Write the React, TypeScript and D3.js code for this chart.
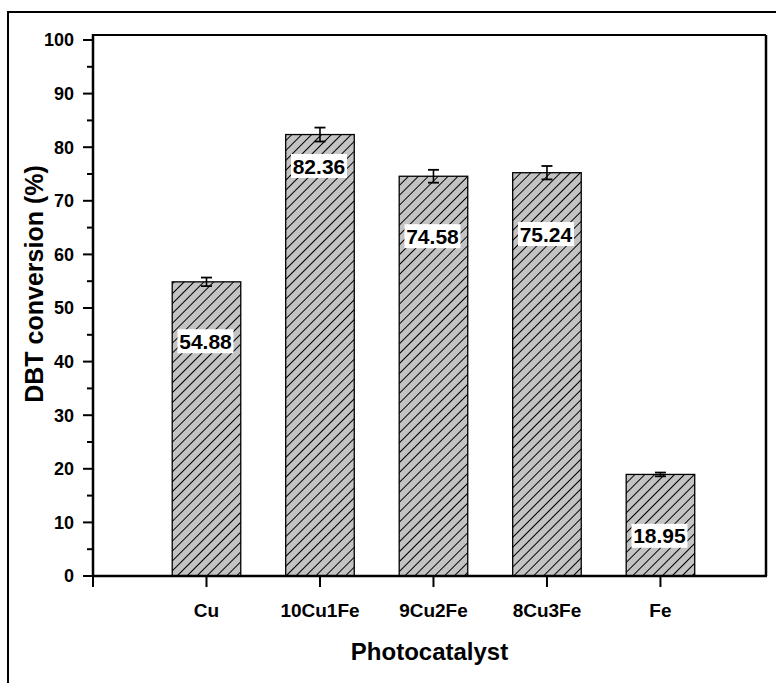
import React from 'react'
import * as d3 from 'd3'

const categories = ['Cu', '10Cu1Fe', '9Cu2Fe', '8Cu3Fe', 'Fe']
const conversion = [54.88, 82.36, 74.58, 75.24, 18.95]
const errors = [0.8, 1.3, 1.2, 1.25, 0.35]
// where the value labels sit, in axis units (placed by hand in the original)
const labelAt = [43.8, 76.5, 63.4, 63.8, 7.5]
const yTicks = [0, 10, 20, 30, 40, 50, 60, 70, 80, 90, 100]
const yMinorTicks = [5, 15, 25, 35, 45, 55, 65, 75, 85, 95]

const W = 776
const H = 683
const plot = { left: 93, right: 766, top: 35, bottom: 576 }
const font = '"Liberation Sans", Arial, sans-serif'

export default function App() {
  const xScale = d3.scaleLinear()
    .domain([0, 5.93])
    .range([plot.left, plot.right])

  const yScale = d3.scaleLinear()
    .domain([0, 100])
    .range([plot.bottom, 40])

  const barHalf = 0.302

  const bars = categories.map((cat, i) => {
    const x0 = xScale(i + 1 - barHalf)
    const x1 = xScale(i + 1 + barHalf)
    const cx = xScale(i + 1)
    const v = conversion[i]
    const yTop = yScale(v)
    const eHi = yScale(v + errors[i])
    const eLo = yScale(v - errors[i])
    const ly = yScale(labelAt[i])
    const txt = v.toFixed(2)
    return (
      <g key={cat}>
        <rect x={x0} y={yTop} width={x1 - x0} height={plot.bottom - yTop}
          fill='url(#hatch)' stroke='#000' strokeWidth={1.3} />
        {/* error bar */}
        <line x1={cx} x2={cx} y1={eHi} y2={eLo} stroke='#000' strokeWidth={1.6} />
        <line x1={cx - 5.5} x2={cx + 5.5} y1={eHi} y2={eHi} stroke='#000' strokeWidth={1.8} />
        <line x1={cx - 5.5} x2={cx + 5.5} y1={eLo} y2={eLo} stroke='#000' strokeWidth={1.8} />
        {/* value label */}
        <rect x={cx - 29} y={ly - 12} width={56} height={24} fill='#fff' />
        <text x={cx - 1} y={ly} dy='0.36em' textAnchor='middle'
          fontFamily={font} fontWeight='bold' fontSize={21} fill='#000'>
          {txt}
        </text>
      </g>
    )
  })

  return (
    <svg width={W} height={H} style={{ position: 'absolute', left: 0, top: 0, display: 'block', background: '#fff' }}>
      <defs>
        <pattern id='hatch' patternUnits='userSpaceOnUse' width={7} height={7}
          patternTransform='rotate(45)'>
          <rect x={0} y={0} width={7} height={7} fill='#c3c3c3' />
          <line x1={0.5} y1={0} x2={0.5} y2={7} stroke='#000' strokeWidth={1} />
        </pattern>
      </defs>

      {/* outer border */}
      <rect x={8} y={12} width={W + 20} height={H + 20} fill='none' stroke='#000' strokeWidth={2} />

      { bars }

      {/* frame */}
      <line x1={plot.left} x2={plot.right} y1={plot.top} y2={plot.top} stroke='#000' strokeWidth={2} />
      <line x1={plot.right} x2={plot.right} y1={plot.top} y2={plot.bottom} stroke='#000' strokeWidth={2.5} />
      <line x1={plot.left} x2={plot.right + 1} y1={plot.bottom} y2={plot.bottom} stroke='#000' strokeWidth={2.5} />
      <line x1={plot.left} x2={plot.left} y1={plot.top - 1} y2={plot.bottom + 1} stroke='#000' strokeWidth={2.5} />

      {/* y ticks */}
      {yTicks.map(t => (
        <g key={'yt' + t}>
          <line x1={plot.left - 10} x2={plot.left} y1={yScale(t)} y2={yScale(t)} stroke='#000' strokeWidth={2} />
          <text x={plot.left - 19} y={yScale(t)} dy='0.36em' textAnchor='end'
            fontFamily={font} fontWeight='bold' fontSize={18}>{t}</text>
        </g>
      ))}
      {yMinorTicks.map(t => (
        <line key={'ym' + t} x1={plot.left - 6} x2={plot.left} y1={yScale(t)} y2={yScale(t)} stroke='#000' strokeWidth={2} />
      ))}

      {/* x ticks */}
      <line x1={xScale(0)} x2={xScale(0)} y1={plot.bottom} y2={plot.bottom + 11} stroke='#000' strokeWidth={2} />
      {categories.map((cat, i) => (
        <g key={'xt' + cat}>
          <line x1={xScale(i + 1)} x2={xScale(i + 1)} y1={plot.bottom} y2={plot.bottom + 11} stroke='#000' strokeWidth={2} />
          <text x={xScale(i + 1)} y={617} textAnchor='middle'
            fontFamily={font} fontWeight='bold' fontSize={19}>{cat}</text>
        </g>
      ))}

      {/* axis titles */}
      <text x={(plot.left + plot.right) / 2} y={660} textAnchor='middle'
        fontFamily={font} fontWeight='bold' fontSize={24}>Photocatalyst</text>
      <text transform={'translate(43,284) rotate(-90)'} textAnchor='middle'
        fontFamily={font} fontWeight='bold' fontSize={25}>DBT conversion (%)</text>
    </svg>
  )
}
